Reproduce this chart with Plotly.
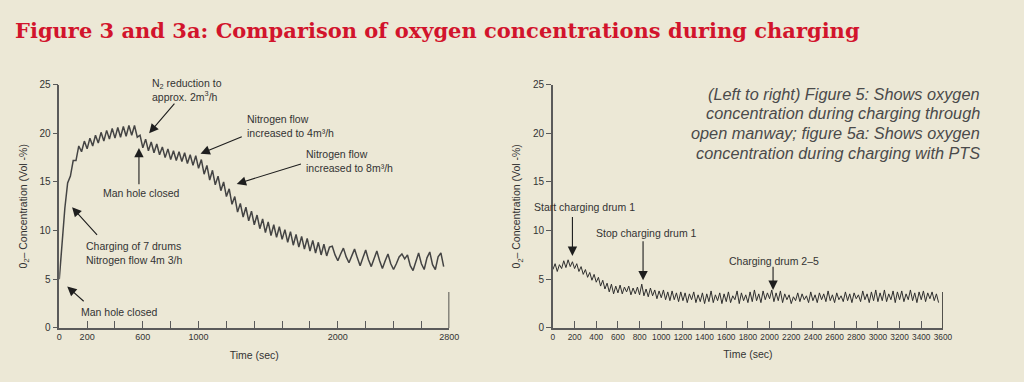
import plotly.graph_objects as go

# ---------------- data ----------------
TITLE = "Figure 3 and 3a: Comparison of oxygen concentrations during charging"
CAPTION = [
    "(Left to right) Figure 5: Shows oxygen",
    "concentration during charging through",
    "open manway; figure 5a: Shows oxygen",
    "concentration during charging with PTS",
]

# Left chart (Figure 3): O2 readings every 20 s, 0 ... 2760 s
left_step = 20
left_o2 = [
    5.0, 8.8, 12.3, 14.9, 15.6, 17.2, 17.2, 18.7, 18.1, 19.2,
    18.4, 19.5, 18.7, 19.8, 19.0, 20.1, 19.2, 20.3, 19.4, 20.5,
    19.5, 20.6, 19.6, 20.7, 19.7, 20.8, 19.8, 20.8, 19.6, 19.8,
    18.5, 19.4, 18.2, 19.1, 18.0, 18.9, 17.8, 18.6, 17.5, 18.4,
    17.3, 18.2, 17.2, 18.1, 17.1, 18.0, 16.9, 17.8, 16.7, 17.7,
    16.4, 17.3, 15.8, 16.7, 15.2, 16.2, 14.7, 15.6, 14.1, 15.0,
    13.5, 14.3, 12.7, 13.5, 11.9, 12.8, 11.4, 12.4, 11.0, 12.0,
    10.6, 11.6, 10.2, 11.2, 9.8, 10.9, 9.5, 10.6, 9.3, 10.4,
    9.1, 10.1, 8.8, 9.9, 8.5, 9.6, 8.3, 9.4, 8.1, 9.2,
    7.9, 9.0, 7.7, 8.8, 7.5, 8.6, 7.4, 8.3, 8.4, 7.5,
    6.9, 7.6, 8.2, 7.3, 6.7, 7.4, 8.1, 7.2, 6.4, 7.2,
    8.0, 7.0, 6.3, 7.1, 7.9, 6.9, 6.1, 6.9, 7.6, 6.6,
    6.0, 6.6, 7.3, 7.6, 7.1, 7.5, 6.4, 5.9, 6.8, 7.7,
    6.6, 6.0, 7.2, 7.8, 6.5, 6.0, 7.3, 7.7, 6.3,
]

# Right chart (Figure 3a): O2 readings every 20 s, 0 ... 3560 s
right_step = 20
right_o2 = [
    6.0, 6.6, 5.8, 6.5, 6.1, 6.9, 6.2, 7.0, 6.3, 6.8, 6.1,
    6.6, 5.8, 6.3, 5.5, 6.0, 5.2, 5.7, 4.9, 5.5, 4.7,
    5.2, 4.3, 4.9, 4.0, 4.6, 3.7, 4.5, 3.5, 4.3, 3.6,
    4.4, 3.5, 4.2, 3.7, 4.3, 3.4, 4.1, 3.5, 4.2, 3.4,
    4.5, 3.3, 4.0, 3.2, 4.1, 3.3, 3.9, 3.0, 3.8, 3.1,
    3.9, 2.9, 3.7, 2.8, 3.8, 2.9, 3.6, 2.7, 3.7, 2.8,
    3.6, 2.6, 3.5, 2.9, 3.7, 2.6, 3.4, 2.7, 3.6, 2.5,
    3.5, 2.7, 3.8, 2.6, 3.4, 2.8, 3.6, 2.5, 3.5, 2.7,
    3.7, 2.6, 3.3, 2.9, 3.8, 2.5, 3.6, 2.8, 3.4, 2.6,
    3.7, 2.7, 3.9, 2.8, 3.5, 2.6, 3.8, 2.9, 3.6, 3.0,
    3.9, 2.7, 3.6, 2.8, 3.8, 2.6, 3.5, 2.9, 3.4, 2.5,
    3.2, 2.8, 3.6, 2.7, 3.5, 2.9, 3.3, 2.6, 3.7, 2.8,
    3.4, 2.6, 3.6, 2.9, 3.5, 2.7, 3.8, 2.8, 3.4, 2.6,
    3.6, 2.9, 3.3, 2.7, 3.7, 2.8, 3.5, 2.6, 3.6, 3.0,
    3.4, 2.7, 3.8, 2.9, 3.5, 2.6, 3.7, 2.8, 3.9, 2.7,
    3.6, 2.8, 3.9, 2.7, 3.5, 2.9, 3.8, 2.6, 3.7, 2.9,
    3.8, 2.7, 3.5, 2.9, 3.9, 2.8, 3.6, 2.6, 3.7, 2.9,
    3.8, 2.7, 3.6, 3.0, 3.7, 2.8, 3.5, 2.6,
]

left_t = [i * left_step for i in range(len(left_o2))]
right_t = [i * right_step for i in range(len(right_o2))]

left_xrange = [0, 2800]
right_xrange = [0, 3600]
y_range = [0, 25]
y_ticks = [0, 5, 10, 15, 20, 25]
left_xtick_vals = list(range(0, 2801, 200))
left_xtick_text = ["0", "200", "", "600", "", "1000", "", "", "", "",
                   "2000", "", "", "", "2800"]
right_xtick_vals = list(range(0, 3601, 200))
right_xtick_text = [str(v) for v in right_xtick_vals]

# annotations: (text, x, y, xanchor) and arrows (head x, head y, tail x, tail y)
left_labels = [
    ("N<sub>2</sub> reduction to<br>approx. 2m<sup>3</sup>/h", 914, 24.5, "center"),
    ("Man hole closed", 588, 13.9, "center"),
    ("Nitrogen flow<br>increased to 4m³/h", 1333, 20.7, "left"),
    ("Nitrogen flow<br>increased to 8m³/h", 1758, 17.2, "left"),
    ("Man hole closed", 140, 1.65, "left"),
    ("Charging of 7 drums<br>Nitrogen flow 4m 3/h", 175, 7.65, "left"),
]
left_arrows = [
    (645, 20.0, 836, 23.2),
    (572, 18.5, 572, 14.6),
    (1014, 17.9, 1321, 19.7),
    (1274, 14.8, 1746, 16.9),
    (57, 4.25, 186, 2.6),
    (92, 12.4, 281, 9.4),
]
right_labels = [
    ("Start charging drum 1", 292, 12.45, "center"),
    ("Stop charging drum 1", 861, 9.8, "center"),
    ("Charging drum 2–5", 2042, 6.9, "center"),
]
right_arrows = [
    (180, 7.4, 180, 11.55),
    (832, 4.9, 832, 9.06),
    (2032, 3.9, 2032, 6.44),
]

# ---------------- styling ----------------
BG = "#ECE8D6"
AXC = "#5a5a5a"
TXT = "#333333"
FONT = "Liberation Sans, Arial, sans-serif"

fig = go.Figure()
fig.add_trace(go.Scatter(x=left_t, y=left_o2, mode="lines",
                         line=dict(color="#444444", width=1.5),
                         xaxis="x", yaxis="y", hoverinfo="skip"))
fig.add_trace(go.Scatter(x=right_t, y=right_o2, mode="lines",
                         line=dict(color="#2e2e2e", width=1.0),
                         xaxis="x2", yaxis="y2", hoverinfo="skip"))

def xaxis_style(domain, rng, vals, text, anchor, size):
    return dict(domain=domain, range=rng, anchor=anchor, showline=True,
                linecolor=AXC, linewidth=1.5, ticks="inside", ticklen=7,
                tickcolor=AXC, tickwidth=1.2, tickvals=vals, ticktext=text,
                tickangle=0,
                tickfont=dict(family=FONT, size=size, color=TXT),
                showgrid=False, zeroline=False,
                title=dict(text="Time (sec)", standoff=10,
                           font=dict(family=FONT, size=10.5, color=TXT)))

def yaxis_style(domain, anchor):
    return dict(domain=domain, range=y_range, anchor=anchor, showline=True,
                linecolor=AXC, linewidth=1.5, ticks="outside", ticklen=5,
                tickcolor=AXC, tickwidth=1.2, tickvals=y_ticks,
                tickfont=dict(family=FONT, size=10, color=TXT),
                showgrid=False, zeroline=False,
                title=dict(text="0<sub>2</sub>– Concentration (Vol -%)",
                           standoff=10,
                           font=dict(family=FONT, size=10.5, color=TXT)))

ydom = [(382 - 332.5) / 382, (382 - 82) / 382]
fig.update_layout(
    width=1024, height=382,
    margin=dict(l=0, r=0, t=0, b=0),
    paper_bgcolor=BG, plot_bgcolor=BG,
    showlegend=False,
    xaxis=xaxis_style([57 / 1024, 452 / 1024], left_xrange,
                      left_xtick_vals, left_xtick_text, "y", 9),
    yaxis=yaxis_style(ydom, "x"),
    xaxis2=xaxis_style([557 / 1024, 952 / 1024], right_xrange,
                       right_xtick_vals, right_xtick_text, "y2", 8.3),
    yaxis2=yaxis_style(ydom, "x2"),
)

# right-hand end markers of the time axes
for xr, yr, xend in (("x", "y", left_xrange[1]), ("x2", "y2", right_xrange[1])):
    fig.add_shape(type="line", xref=xr, yref=yr, x0=xend, x1=xend, y0=0, y1=3.7,
                  line=dict(color="#222", width=1.5))

annos = []
annos.append(dict(text="<b>" + TITLE + "</b>", xref="paper", yref="paper",
                  x=10 / 1024, y=1 - 26 / 382, xanchor="left", yanchor="middle",
                  showarrow=False,
                  font=dict(family="DejaVu Serif", size=21, color="#D2142C")))
caption_y = [91.7, 111.7, 132.0, 152.7]
for line, cy in zip(CAPTION, caption_y):
    annos.append(dict(text="<i>" + line + "</i>", xref="paper",
                      yref="paper", x=992 / 1024, y=1 - cy / 382,
                      xanchor="right", yanchor="middle", align="right",
                      showarrow=False,
                      font=dict(family=FONT, size=16.3, color="#4a4a4a")))

for labels, arrows, xr, yr in ((left_labels, left_arrows, "x", "y"),
                               (right_labels, right_arrows, "x2", "y2")):
    for text, x, y, anc in labels:
        annos.append(dict(text=text, x=x, y=y, xref=xr, yref=yr,
                          xanchor=anc, yanchor="middle", align="left",
                          showarrow=False,
                          font=dict(family=FONT, size=10.5, color=TXT)))
    for hx, hy, tx, ty in arrows:
        annos.append(dict(text="", x=hx, y=hy, xref=xr, yref=yr,
                          ax=tx, ay=ty, axref=xr, ayref=yr,
                          showarrow=True, arrowhead=2, arrowsize=1.7,
                          arrowwidth=1.1, arrowcolor="#1e1e1e"))

fig.update_layout(annotations=annos)
fig.write_html(
    "out.html",
    config={"displayModeBar": False},
    post_script="document.body.style.margin='0';"
                "document.body.style.overflow='hidden';",
)
